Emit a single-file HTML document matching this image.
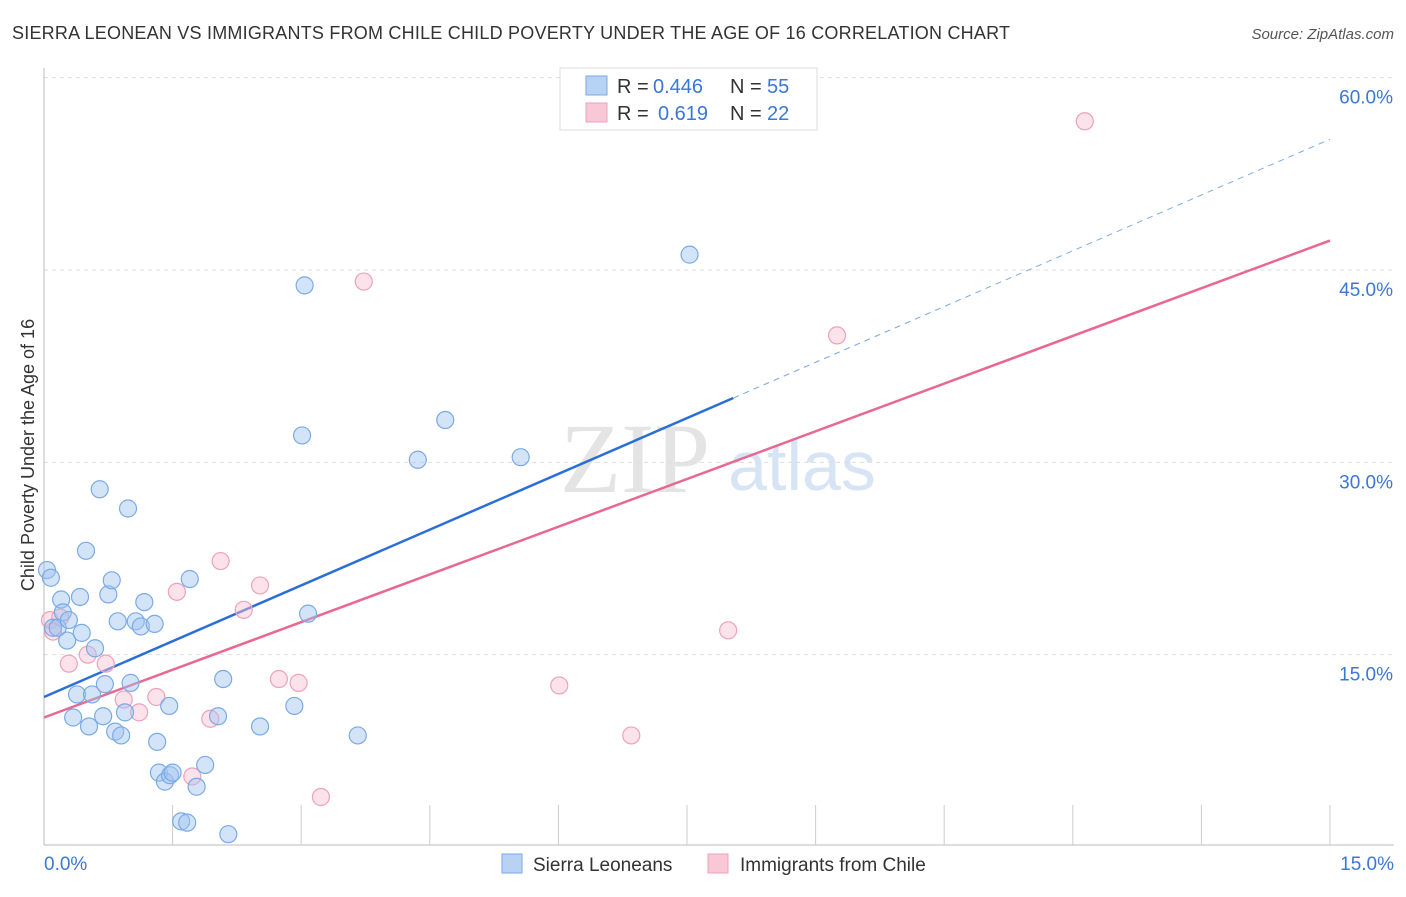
<!DOCTYPE html>
<html><head><meta charset="utf-8"><style>
body{margin:0;background:#fff;font-family:"Liberation Sans",sans-serif;}
svg text{font-family:"Liberation Sans",sans-serif;}
</style></head><body>
<svg id="c" width="1406" height="892" xmlns="http://www.w3.org/2000/svg">
<text x="12" y="39" font-size="18" fill="#333" textLength="998" lengthAdjust="spacing">SIERRA LEONEAN VS IMMIGRANTS FROM CHILE CHILD POVERTY UNDER THE AGE OF 16 CORRELATION CHART</text>
<text x="1394" y="39" font-size="15" fill="#555" font-style="italic" text-anchor="end">Source: ZipAtlas.com</text>
<text x="635" y="492" font-size="100" fill="#e4e4e4" style="font-family:'Liberation Serif',serif" text-anchor="middle">ZIP</text>
<text x="802" y="490" font-size="70" fill="#d6e4f5" text-anchor="middle">atlas</text>
<text transform="translate(34,455) rotate(-90)" font-size="18" fill="#333" text-anchor="middle">Child Poverty Under the Age of 16</text>
<g id="grid"></g><g id="lines"></g><g id="pts"></g>
<g>
<rect x="560" y="68" width="257" height="62" fill="#fff" stroke="#ddd"/>
<rect x="586" y="76" width="21" height="19" fill="#b8d2f4" stroke="#7aaae6"/>
<rect x="586" y="103" width="21" height="19" fill="#f9c8d7" stroke="#f0a0bb"/>
<text x="617" y="93" font-size="20" fill="#333">R = <tspan x="653" fill="#3a78d4">0.446</tspan><tspan x="730">N = </tspan><tspan x="767" fill="#3a78d4">55</tspan></text>
<text x="617" y="120" font-size="20" fill="#333">R = <tspan x="658" fill="#3a78d4">0.619</tspan><tspan x="730">N = </tspan><tspan x="767" fill="#3a78d4">22</tspan></text>
</g>
<g>
<rect x="502" y="854" width="20" height="19" fill="#b8d2f4" stroke="#7aaae6"/>
<text x="533" y="871" font-size="19" fill="#333">Sierra Leoneans</text>
<rect x="708" y="854" width="20" height="19" fill="#f9c8d7" stroke="#f0a0bb"/>
<text x="740" y="871" font-size="19" fill="#333">Immigrants from Chile</text>
</g>
</svg>
<script>
const yTicks=[15,30,45,60];
const yTickLabels=["15.0%","30.0%","45.0%","60.0%"];
const blueX=[0.035,0.08,0.105,0.16,0.20,0.22,0.27,0.29,0.385,0.34,0.42,0.44,0.49,0.525,0.56,0.595,0.65,0.69,0.71,0.75,0.79,0.83,0.86,0.90,0.945,0.98,1.01,1.07,1.13,1.17,1.29,1.32,1.34,1.41,1.46,1.47,1.50,1.60,1.67,1.70,1.78,1.88,2.03,2.09,2.15,2.52,2.92,3.01,3.04,3.08,3.66,4.36,4.68,5.56,7.53];
const blueY=[21.6,21.0,17.1,17.1,19.3,18.3,16.1,17.7,11.9,10.1,19.5,16.7,23.1,9.4,11.9,15.5,27.9,10.2,12.7,19.7,20.8,9.0,17.6,8.7,10.5,26.4,12.8,17.6,17.2,19.1,17.4,8.2,5.8,5.1,11.0,5.6,5.8,2.0,1.9,20.9,4.7,6.4,10.2,13.1,1.0,9.4,11.0,32.1,43.8,18.2,8.7,30.2,33.3,30.4,46.2];
const pinkX=[0.07,0.105,0.19,0.29,0.51,0.72,0.93,1.11,1.31,1.55,1.73,1.94,2.06,2.33,2.52,2.74,2.97,3.23,3.73,6.01,6.85,7.98,9.25,12.14];
const pinkY=[17.7,16.8,17.9,14.3,15.0,14.3,11.5,10.5,11.7,19.9,5.5,10.0,22.3,18.5,20.4,13.1,12.8,3.9,44.1,12.6,8.7,16.9,39.9,56.6];
const blueLine=[11.7,2.9]; // intercept, slope
const pinkLine=[10.1,2.48];
const blueSolidEnd=8.04;
const NS="http://www.w3.org/2000/svg";
const X=v=>44+v/15*1286, Y=v=>847-v/15*192.33;
function mk(t,a,p){const e=document.createElementNS(NS,t);for(const k in a)e.setAttribute(k,a[k]);p.appendChild(e);return e;}
const grid=document.getElementById('grid');
yTicks.forEach((t,i)=>{
 const l=mk('line',{x1:44,x2:1394,y1:Y(t),y2:Y(t),stroke:'#ddd','stroke-dasharray':'4,4'},grid);
 
 
 const tx=mk('text',{x:1393,y:Y(t)+26,'font-size':19,fill:'#3a78d4','text-anchor':'end'},grid);
 tx.textContent=yTickLabels[i];
 
 
});
const ax=mk('line',{x1:44,x2:1394,y1:845,y2:845,stroke:'#bbb'},grid);


const ay=mk('line',{x1:44,x2:44,y1:68,y2:845,stroke:'#bbb'},grid);


for(let i=1;i<=10;i++){const x=44+i*128.6;const tk=mk('line',{x1:x,x2:x,y1:805,y2:845,stroke:'#ccc'},grid);
 
 }
[["0.0%",44,'start'],["15.0%",1394,'end']].forEach(a=>{const t=mk('text',{x:a[1],y:870,'font-size':19,fill:'#3a78d4','text-anchor':a[2]},grid);t.textContent=a[0];
 
 });
const pts=document.getElementById('pts');
function dots(xs,ys,f,s,n){xs.forEach((x,i)=>{const c=mk('circle',{cx:X(x),cy:Y(ys[i]),r:8.5,fill:f,stroke:s,'stroke-width':1.2},pts);
 
 });}
dots(pinkX,pinkY,'rgba(248,190,210,0.45)','#f0a0bb','chile-point');
dots(blueX,blueY,'rgba(160,196,240,0.45)','#7aaae6','sierra-leonean-point');
const lines=document.getElementById('lines');
const f=(p,x)=>p[0]+p[1]*x;
const bl=mk('line',{x1:X(0),y1:Y(f(blueLine,0)),x2:X(blueSolidEnd),y2:Y(f(blueLine,blueSolidEnd)),stroke:'#2a6fd6','stroke-width':2.5},lines);


const bd=mk('line',{x1:X(blueSolidEnd),y1:Y(f(blueLine,blueSolidEnd)),x2:X(15),y2:Y(f(blueLine,15)),stroke:'#7aaae6','stroke-width':1,'stroke-dasharray':'6,5'},lines);


const pl=mk('line',{x1:X(0),y1:Y(f(pinkLine,0)),x2:X(15),y2:Y(f(pinkLine,15)),stroke:'#e86892','stroke-width':2.5},lines);


</script>
</body></html>
